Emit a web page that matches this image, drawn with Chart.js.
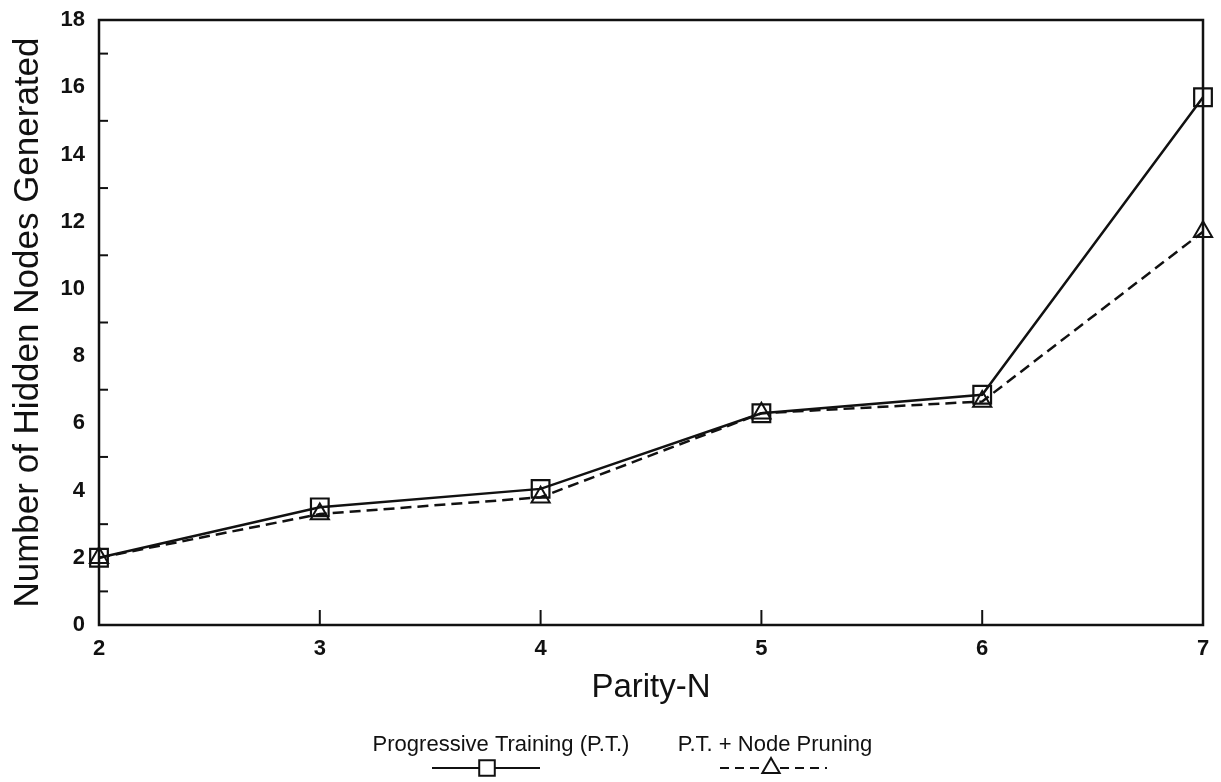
<!DOCTYPE html>
<html>
<head>
<meta charset="utf-8">
<script src="https://cdn.jsdelivr.net/npm/chart.js@4/dist/chart.umd.min.js"></script>
<style>
  html, body { margin: 0; padding: 0; background: #ffffff; }
  #wrap { width: 1221px; height: 782px; position: relative; }
</style>
</head>
<body>
<div id="wrap"><canvas id="c" width="1221" height="782"></canvas></div>
<script>
// Parity problem size and hidden nodes needed by each training scheme
const parityN = [2, 3, 4, 5, 6, 7];
const progressiveTraining = [2, 3.5, 4.05, 6.3, 6.85, 15.7];
const nodePruning = [2, 3.3, 3.8, 6.3, 6.65, 11.7];
const yTickValues = [0, 2, 4, 6, 8, 10, 12, 14, 16, 18];
const seriesNames = ['Progressive Training (P.T.)', 'P.T. + Node Pruning'];

const INK = '#111111';
const FONT = '"Liberation Sans", Arial, Helvetica, sans-serif';

const toPoints = (xs, ys) => xs.map((x, i) => ({ x: x, y: ys[i] }));

// Frame around the plot plus inward tick marks
const framePlugin = {
  id: 'frame',
  beforeDatasetsDraw(chart) {
    const { ctx, chartArea: a, scales } = chart;
    ctx.save();
    ctx.strokeStyle = INK;
    ctx.lineWidth = 2.5;
    ctx.strokeRect(a.left, a.top, a.right - a.left, a.bottom - a.top);
    ctx.lineWidth = 2;
    // minor ticks on the y axis at odd values
    for (let v = 1; v < 18; v += 2) {
      const y = scales.y.getPixelForValue(v);
      ctx.beginPath();
      ctx.moveTo(a.left, y);
      ctx.lineTo(a.left + 9, y);
      ctx.stroke();
    }
    // ticks on the x axis at interior categories
    parityN.slice(1, -1).forEach(v => {
      const x = scales.x.getPixelForValue(v);
      ctx.beginPath();
      ctx.moveTo(x, a.bottom);
      ctx.lineTo(x, a.bottom - 15);
      ctx.stroke();
    });
    ctx.restore();
  }
};

// Legend: names on one row, line samples centred underneath
const legendPlugin = {
  id: 'underLegend',
  afterDraw(chart) {
    const { ctx } = chart;
    const items = [
      { cx: 501, lineFrom: 432, lineTo: 540, marker: 487, ds: chart.data.datasets[1], dash: [] },
      { cx: 775, lineFrom: 720, lineTo: 827, marker: 771, ds: chart.data.datasets[0], dash: [9, 6] }
    ];
    ctx.save();
    ctx.font = '22px ' + FONT;
    ctx.textAlign = 'center';
    ctx.textBaseline = 'middle';
    items.forEach(it => {
      ctx.fillStyle = INK;
      ctx.fillText(it.ds.label, it.cx, 745);
      ctx.strokeStyle = INK;
      ctx.lineWidth = 2.2;
      ctx.setLineDash(it.dash);
      ctx.beginPath();
      ctx.moveTo(it.lineFrom, 768);
      ctx.lineTo(it.lineTo, 768);
      ctx.stroke();
      ctx.setLineDash([]);
      ctx.fillStyle = '#ffffff';
      ctx.strokeStyle = INK;
      ctx.lineWidth = 2;
      Chart.helpers.drawPoint(ctx, {
        pointStyle: it.ds.pointStyle,
        rotation: 0,
        borderWidth: 2,
        radius: it.ds.pointStyle === 'rect' ? 11 : 10
      }, it.marker, 768);
    });
    ctx.restore();
  }
};

new Chart(document.getElementById('c'), {
  type: 'line',
  data: {
    datasets: [
      {
        label: seriesNames[1],
        data: toPoints(parityN, nodePruning),
        borderColor: INK,
        borderWidth: 2.5,
        borderDash: [11, 6],
        pointStyle: 'triangle',
        pointRadius: 10.5,
        pointBorderWidth: 2,
        pointBorderColor: INK,
        pointBackgroundColor: 'rgba(255,255,255,0)',
        tension: 0,
        clip: false
      },
      {
        label: seriesNames[0],
        data: toPoints(parityN, progressiveTraining),
        borderColor: INK,
        borderWidth: 2.5,
        pointStyle: 'rect',
        pointRadius: 12.5,
        pointBorderWidth: 2.2,
        pointBorderColor: INK,
        pointBackgroundColor: 'rgba(255,255,255,0)',
        tension: 0,
        clip: false
      }
    ]
  },
  options: {
    responsive: false,
    animation: false,
    events: [],
    layout: { padding: { top: 20, right: 18, bottom: 0, left: 0 } },
    plugins: {
      legend: { display: false },
      tooltip: { enabled: false }
    },
    scales: {
      x: {
        type: 'linear',
        min: 2,
        max: 7,
        grid: { display: false, drawTicks: false },
        border: { display: false },
        afterFit(scale) {
          scale.height = 157;
          scale.paddingLeft = 0;
          scale.paddingRight = 0;
        },
        afterBuildTicks(scale) { scale.ticks = parityN.map(v => ({ value: v })); },
        ticks: {
          color: INK,
          font: { family: FONT, size: 22, weight: 'bold' },
          padding: 11,
          autoSkip: false,
          maxRotation: 0,
          minRotation: 0
        },
        title: {
          display: true,
          text: 'Parity-N',
          color: INK,
          font: { family: FONT, size: 33, lineHeight: 1.2 },
          padding: { top: 0, bottom: 74 }
        }
      },
      y: {
        min: 0,
        max: 18,
        grid: { display: false, drawTicks: false },
        border: { display: false },
        afterFit(scale) {
          scale.width = 99;
          scale.paddingTop = 0;
          scale.paddingBottom = 0;
        },
        afterBuildTicks(scale) { scale.ticks = yTickValues.map(v => ({ value: v })); },
        ticks: {
          color: INK,
          font: { family: FONT, size: 22, weight: 'bold' },
          padding: 14
        },
        title: {
          display: true,
          text: 'Number of Hidden Nodes Generated',
          color: INK,
          font: { family: FONT, size: 35, lineHeight: 1.2 },
          padding: { top: 7, bottom: 0 }
        }
      }
    }
  },
  plugins: [framePlugin, legendPlugin]
});
</script>
</body>
</html>
